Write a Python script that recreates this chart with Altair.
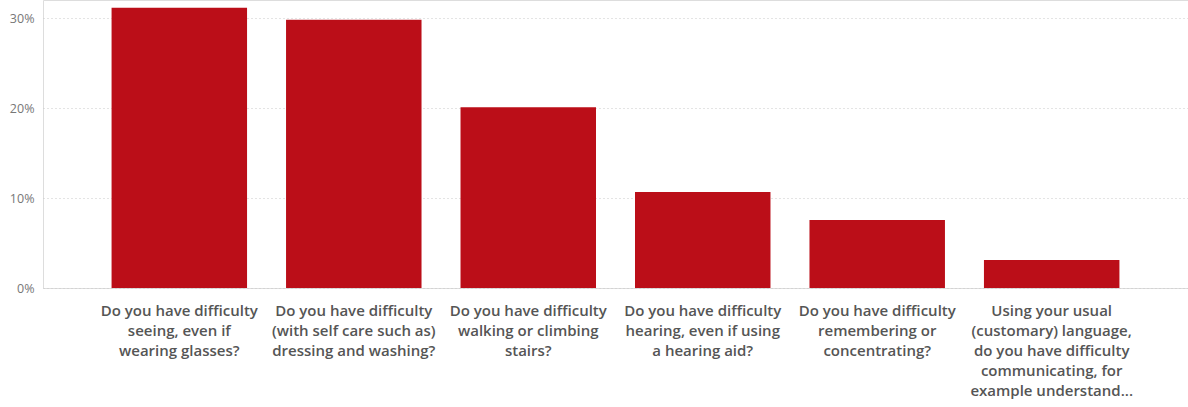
import altair as alt
import pandas as pd

categories = [
    "Do you have difficulty|seeing, even if|wearing glasses?",
    "Do you have difficulty|(with self care such as)|dressing and washing?",
    "Do you have difficulty|walking or climbing|stairs?",
    "Do you have difficulty|hearing, even if using|a hearing aid?",
    "Do you have difficulty|remembering or|concentrating?",
    "Using your usual|(customary) language,|do you have difficulty|communicating, for|example understand...",
]
values = [0.3114, 0.298, 0.2007, 0.1067, 0.0756, 0.0311]
y_ticks = [0, 0.1, 0.2, 0.3]

df = pd.DataFrame({"cat": categories, "val": values})

chart = (
    alt.Chart(df)
    .mark_bar(color="#BB0E18")
    .encode(
        x=alt.X(
            "cat:N",
            sort=categories,
            title=None,
            scale=alt.Scale(paddingInner=0.2235, paddingOuter=0.393),
            axis=alt.Axis(
                labelAngle=0,
                labelExpr="split(datum.label, '|')",
                labelFont="Open Sans",
                labelFontSize=15,
                labelFontWeight=600,
                labelColor="#555555",
                labelLineHeight=20,
                labelPadding=15,
                labelLimit=0,
                domain=False,
                ticks=False,
                grid=False,
            ),
        ),
        y=alt.Y(
            "val:Q",
            title=None,
            scale=alt.Scale(domain=[0, 0.32], nice=False),
            axis=alt.Axis(
                values=y_ticks,
                format=".0%",
                labelFont="Open Sans",
                labelFontSize=12.5,
                labelColor="#777777",
                labelPadding=9,
                domain=False,
                ticks=False,
                grid=True,
                gridColor="#C8C8C8",
                gridDash=[1, 3],
                gridWidth=1,
            ),
        ),
    )
    .properties(
        width=1145,
        height=288,
        autosize=alt.AutoSizeParams(type="none"),
        padding={"left": 43, "top": 0, "right": 0, "bottom": 119},
    )
    .configure_view(stroke="transparent", strokeWidth=0, strokeOpacity=0)
    .configure_axis(domain=False)
    .configure(background="white")
)

chart.save("out.html", embed_options={"renderer": "svg", "actions": False})
